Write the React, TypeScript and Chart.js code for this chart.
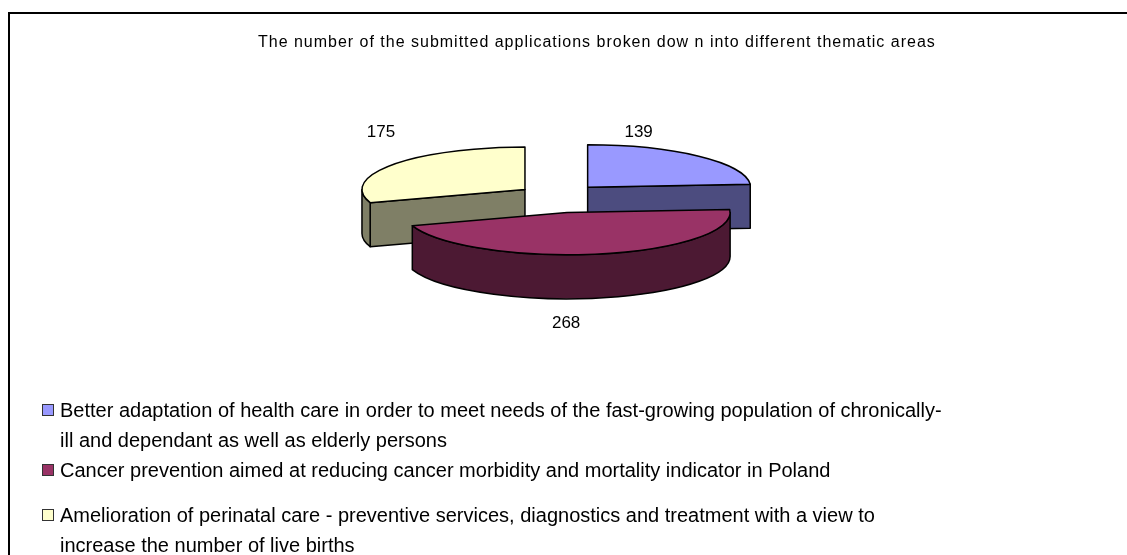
import React, { useEffect, useRef } from "react";
import { Chart, registerables } from "chart.js";

Chart.register(...registerables);

// ---- data ----
const titleText =
  "The number of the submitted applications broken dow n into different thematic areas";
const categoryLines = [
  [
    "Better adaptation of health care in order to meet needs of the fast-growing population of chronically-",
    "ill and dependant as well as elderly persons",
  ],
  ["Cancer prevention aimed at reducing cancer morbidity and mortality indicator in Poland"],
  [
    "Amelioration of perinatal care - preventive services, diagnostics and treatment with a view to",
    "increase the number of live births",
  ],
];
const values = [139, 268, 175];
const topColors = ["#9999FF", "#993366", "#FFFFCC"];
const sideColors = ["#4C4C7F", "#4C1933", "#7F7F66"];

// ---- layout / style ----
const FONT = "'Liberation Sans', Arial, sans-serif";
const SQUASH = 0.26;
const DEPTH = 44;
const EXPLODE = 42;
const EXPLODE_Y = 0.35;
const labelOffsets = [
  [51, -55],
  [-1, 111],
  [-144, -57],
];
const legendTops = [395, 455, 500];
const legendFontSize = 20;
const titleFontSize = 16;
const titleWidth = 678;
const titleCenter = [597, 43];

function measure(text: string, font: string): number {
  const c = document.createElement("canvas").getContext("2d")!;
  c.font = font;
  return c.measureText(text).width;
}

const pie3d = {
  id: "pie3d",
  beforeDatasetsDraw(chart: any) {
    const ctx: CanvasRenderingContext2D = chart.ctx;
    const meta = chart.getDatasetMeta(0);
    const items = meta.data.map((arc: any, i: number) => {
      const p = arc.getProps(["x", "y", "startAngle", "endAngle", "outerRadius"], true);
      const mid = (p.startAngle + p.endAngle) / 2;
      const dx = EXPLODE * Math.cos(mid);
      const dy = EXPLODE * EXPLODE_Y * Math.sin(mid);
      return { arc, i, ...p, mid, dx, dy, cx: p.x + dx, cy: p.y + dy };
    });
    items.sort((a: any, b: any) => Math.sin(a.mid) - Math.sin(b.mid));
    ctx.save();
    ctx.lineJoin = "round";
    ctx.lineWidth = 1.5;
    ctx.strokeStyle = "#000";
    for (const it of items) {
      const R = it.outerRadius;
      const ry = R * SQUASH;
      const a0 = it.startAngle;
      const a1 = it.endAngle;
      const side = sideColors[it.i];
      const face = (a: number) => {
        ctx.beginPath();
        ctx.moveTo(it.cx, it.cy);
        ctx.lineTo(it.cx + R * Math.cos(a), it.cy + ry * Math.sin(a));
        ctx.lineTo(it.cx + R * Math.cos(a), it.cy + ry * Math.sin(a) + DEPTH);
        ctx.lineTo(it.cx, it.cy + DEPTH);
        ctx.closePath();
        ctx.fillStyle = side;
        ctx.fill();
        ctx.stroke();
      };
      if (Math.cos(a0) < -1e-6) face(a0);
      if (Math.cos(a1) > 1e-6) face(a1);
      const t0 = Math.max(a0, 0);
      const t1 = Math.min(a1, Math.PI);
      if (t1 > t0) {
        ctx.beginPath();
        ctx.ellipse(it.cx, it.cy, R, ry, 0, t0, t1, false);
        ctx.lineTo(it.cx + R * Math.cos(t1), it.cy + ry * Math.sin(t1) + DEPTH);
        ctx.ellipse(it.cx, it.cy + DEPTH, R, ry, 0, t1, t0, true);
        ctx.closePath();
        ctx.fillStyle = side;
        ctx.fill();
        ctx.stroke();
      }
      // top face through the library's arc element
      ctx.save();
      ctx.translate(it.dx, it.dy);
      ctx.translate(it.x, it.y);
      ctx.scale(1, SQUASH);
      ctx.translate(-it.x, -it.y);
      it.arc.draw(ctx);
      ctx.restore();
      ctx.beginPath();
      ctx.moveTo(it.cx, it.cy);
      ctx.ellipse(it.cx, it.cy, R, ry, 0, a0, a1, false);
      ctx.closePath();
      ctx.stroke();
    }
    // value labels
    ctx.fillStyle = "#000";
    ctx.font = `17px ${FONT}`;
    ctx.textAlign = "center";
    ctx.textBaseline = "middle";
    for (const it of items) {
      const [ox, oy] = labelOffsets[it.i];
      ctx.fillText(String(values[it.i]), it.cx + ox, it.cy + oy);
    }
    // title
    const tFont = `${titleFontSize}px ${FONT}`;
    const natural = measure(titleText, tFont);
    const sp = (titleWidth - natural) / titleText.length;
    ctx.font = tFont;
    (ctx as any).letterSpacing = `${sp.toFixed(2)}px`;
    ctx.textAlign = "left";
    ctx.fillText(titleText, titleCenter[0] - titleWidth / 2, titleCenter[1]);
    ctx.restore();
    return false;
  },
};

export default function App() {
  const ref = useRef<HTMLCanvasElement | null>(null);

  useEffect(() => {
    if (!ref.current) return;
    const chart = new Chart(ref.current, {
      type: "pie",
      data: {
        labels: categoryLines.map((l) => l.join(" ")),
        datasets: [
          {
            data: values,
            backgroundColor: topColors,
            borderWidth: 0,
          },
        ],
      },
      options: {
        responsive: false,
        animation: false,
        radius: 163,
        layout: { padding: { left: 0, right: 9, top: 0, bottom: 159 } },
        plugins: { legend: { display: false }, tooltip: { enabled: false }, title: { display: false } },
        events: [],
      } as any,
      plugins: [pie3d as any],
    });
    return () => chart.destroy();
  }, []);

  return (
    <div
      style={{
        position: "fixed",
        left: 0,
        top: 0,
        width: 1127,
        height: 555,
        overflow: "hidden",
        background: "#fff",
      }}
    >
      <div
        style={{
          position: "absolute",
          left: 8,
          top: 12,
          width: 1300,
          height: 700,
          borderTop: "2px solid #000",
          borderLeft: "2px solid #000",
        }}
      />
      <canvas
        ref={ref}
        width={1127}
        height={555}
        style={{ position: "absolute", left: 0, top: 0, width: 1127, height: 555 }}
      />
      {categoryLines.map((lines, i) => (
        <div
          key={i}
          style={{
            position: "absolute",
            left: 42,
            top: legendTops[i],
            fontFamily: FONT,
            fontSize: legendFontSize,
            lineHeight: "30px",
            color: "#000",
            whiteSpace: "nowrap",
          }}
        >
          <span
            style={{
              position: "absolute",
              left: 0,
              top: 9,
              width: 10,
              height: 10,
              background: topColors[i],
              border: "1px solid #333",
            }}
          />
          {lines.map((t, j) => (
            <div key={j} style={{ paddingLeft: 18 }}>
              {t}
            </div>
          ))}
        </div>
      ))}
    </div>
  );
}
